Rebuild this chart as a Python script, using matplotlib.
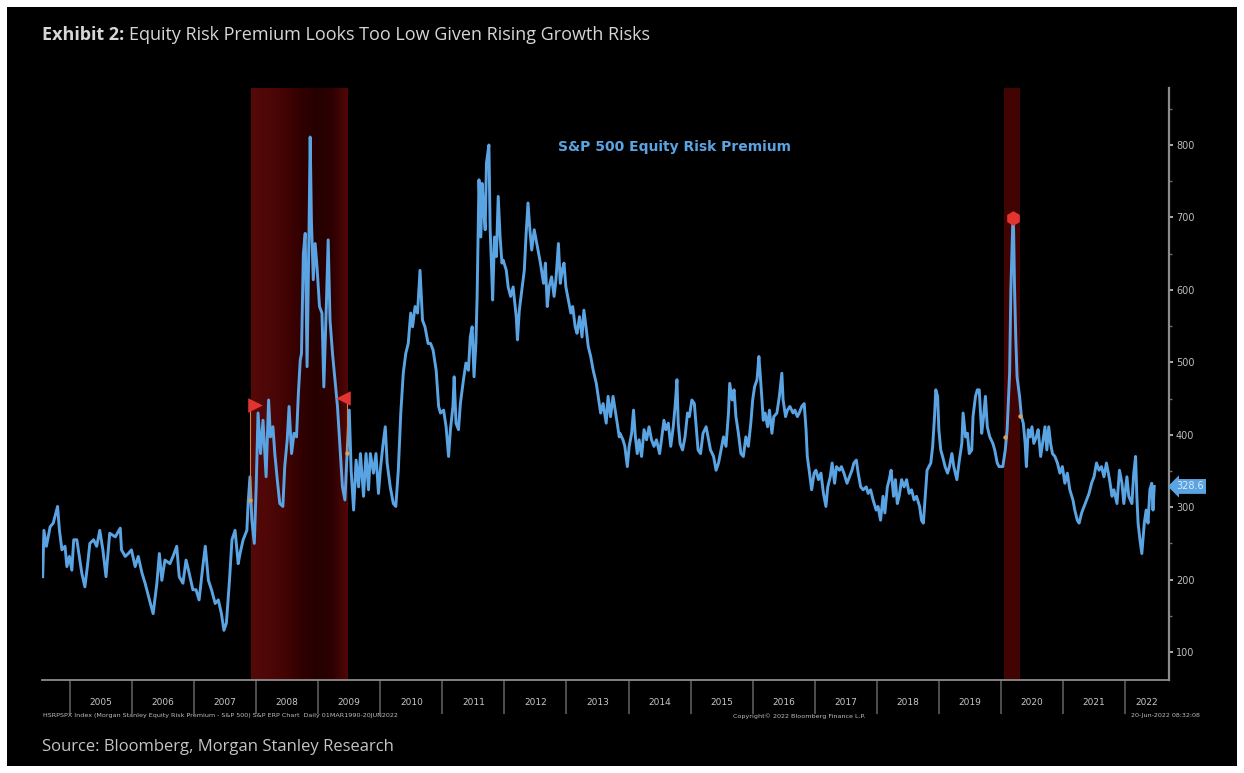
import numpy as np
import matplotlib.pyplot as plt
from matplotlib.colors import LinearSegmentedColormap
from matplotlib.patches import Rectangle

# ========= datos (año decimal / pb) =========
t_2004_07 = [2004.56, 2004.58, 2004.62, 2004.68, 2004.73, 2004.80, 2004.83, 2004.87, 2004.92, 2004.95, 2004.99,
             2005.03, 2005.06, 2005.11, 2005.15, 2005.19, 2005.24, 2005.28, 2005.32, 2005.38, 2005.43, 2005.48,
             2005.53, 2005.58, 2005.64, 2005.73, 2005.81, 2005.83, 2005.89, 2005.94, 2005.99,
             2006.05, 2006.10, 2006.16, 2006.21, 2006.28, 2006.34, 2006.40, 2006.44, 2006.48, 2006.53, 2006.61,
             2006.66, 2006.72, 2006.76, 2006.82, 2006.87, 2006.92, 2006.98,
             2007.03, 2007.08, 2007.14, 2007.18, 2007.23, 2007.28, 2007.34, 2007.39, 2007.44, 2007.48, 2007.52,
             2007.57, 2007.61, 2007.66, 2007.71]
erp_2004_07 = [204, 268, 246, 273, 278, 301, 268, 241, 246, 218, 232,
               213, 255, 255, 232, 209, 190, 218, 250, 255, 246, 268, 241, 204, 264, 259, 271, 241, 232, 236, 241,
               218, 232, 209, 195, 172, 153, 195, 236, 199, 227, 222, 232, 246, 204, 195, 227, 209, 186,
               186, 172, 218, 246, 199, 186, 167, 172, 153, 130, 140, 199, 255, 268, 222]

t_2007_10 = [2007.74, 2007.79, 2007.85, 2007.87, 2007.90, 2007.93, 2007.97,
             2008.00, 2008.03, 2008.07, 2008.11, 2008.16, 2008.20, 2008.23, 2008.27, 2008.30, 2008.34, 2008.38,
             2008.43, 2008.46, 2008.50, 2008.53, 2008.57, 2008.61, 2008.65, 2008.68, 2008.71, 2008.73, 2008.76,
             2008.79, 2008.82, 2008.85, 2008.87, 2008.89, 2008.92, 2008.95, 2008.98,
             2009.02, 2009.06, 2009.09, 2009.13, 2009.16, 2009.19, 2009.23, 2009.27, 2009.31, 2009.35, 2009.39,
             2009.43, 2009.47, 2009.50, 2009.53, 2009.57, 2009.61, 2009.65, 2009.68, 2009.73, 2009.77, 2009.81,
             2009.84, 2009.89, 2009.93, 2009.97,
             2010.00, 2010.04, 2010.08, 2010.11, 2010.16, 2010.21, 2010.25, 2010.29, 2010.33, 2010.37, 2010.41,
             2010.45, 2010.49, 2010.52, 2010.56, 2010.60, 2010.64, 2010.68, 2010.72, 2010.77]
erp_2007_10 = [236, 255, 268, 305, 342, 282, 250,
               328, 430, 374, 420, 342, 448, 397, 411, 374, 338, 305, 301, 356, 393, 439, 374, 402, 397, 457, 503,
               512, 650, 678, 494, 673, 811, 696, 614, 664, 632,
               577, 568, 466, 577, 669, 558, 512, 476, 439, 384, 328, 310, 384, 434, 351, 296, 365, 328, 374, 315,
               374, 324, 374, 347, 374, 319,
               351, 384, 411, 361, 328, 305, 301, 351, 430, 485, 512, 526, 568, 549, 577, 568, 627, 558, 549, 526]

t_2010_13 = [2010.81, 2010.85, 2010.90, 2010.94, 2010.97,
             2011.02, 2011.06, 2011.10, 2011.13, 2011.17, 2011.19, 2011.22, 2011.26, 2011.29, 2011.34, 2011.38,
             2011.42, 2011.45, 2011.48, 2011.51, 2011.54, 2011.56, 2011.59, 2011.62, 2011.64, 2011.67, 2011.69,
             2011.71, 2011.75, 2011.77, 2011.79, 2011.81, 2011.84, 2011.87, 2011.90, 2011.93, 2011.96, 2011.98,
             2012.03, 2012.06, 2012.10, 2012.14, 2012.19, 2012.21, 2012.24, 2012.28, 2012.32, 2012.35, 2012.38,
             2012.41, 2012.44, 2012.48, 2012.51, 2012.55, 2012.58, 2012.63, 2012.66, 2012.69, 2012.72, 2012.76,
             2012.80, 2012.83, 2012.87, 2012.90, 2012.93, 2012.96, 2012.99,
             2013.03, 2013.07, 2013.10, 2013.14, 2013.17, 2013.21, 2013.25, 2013.28, 2013.32, 2013.35, 2013.39,
             2013.43, 2013.48, 2013.51, 2013.55, 2013.59, 2013.64, 2013.67, 2013.71, 2013.75, 2013.81, 2013.85]
erp_2010_13 = [526, 517, 489, 439, 430,
               434, 411, 370, 407, 439, 480, 416, 407, 443, 476, 499, 489, 535, 549, 480, 526, 591, 752, 673, 747,
               706, 683, 775, 800, 683, 637, 586, 673, 646, 729, 673, 637, 641,
               627, 604, 591, 604, 563, 531, 572, 600, 627, 678, 720, 683, 655, 683, 669, 650, 637, 609, 637, 577,
               604, 618, 591, 614, 664, 609, 627, 637, 604,
               586, 568, 577, 549, 540, 563, 535, 572, 545, 522, 508, 489, 471, 453, 430, 443, 416, 453, 425, 453,
               420, 397]

t_2013_16 = [2013.86, 2013.91, 2013.94, 2013.98,
             2014.01, 2014.05, 2014.08, 2014.11, 2014.14, 2014.17, 2014.21, 2014.25, 2014.29, 2014.33, 2014.37,
             2014.41, 2014.45, 2014.50, 2014.53, 2014.57, 2014.60, 2014.64, 2014.68, 2014.72, 2014.75, 2014.78,
             2014.80, 2014.83, 2014.87, 2014.91, 2014.95, 2014.98,
             2015.02, 2015.06, 2015.09, 2015.12, 2015.16, 2015.20, 2015.25, 2015.29, 2015.32, 2015.37, 2015.41,
             2015.45, 2015.49, 2015.53, 2015.57, 2015.61, 2015.63, 2015.67, 2015.70, 2015.73, 2015.77, 2015.81,
             2015.85, 2015.89, 2015.93, 2015.97,
             2016.00, 2016.03, 2016.07, 2016.10, 2016.12, 2016.15, 2016.17, 2016.20, 2016.24, 2016.27, 2016.31,
             2016.34, 2016.39, 2016.43, 2016.47, 2016.49, 2016.53, 2016.56, 2016.60, 2016.65, 2016.68, 2016.72,
             2016.75]
erp_2013_16 = [402, 393, 384, 356,
               384, 402, 434, 397, 374, 393, 370, 407, 393, 411, 393, 384, 393, 374, 393, 420, 407, 416, 384, 411,
               439, 476, 416, 388, 379, 397, 430, 425,
               448, 443, 411, 379, 374, 402, 411, 393, 379, 370, 351, 361, 379, 397, 384, 430, 471, 448, 462, 425,
               402, 374, 370, 397, 384, 416,
               448, 466, 476, 508, 485, 448, 420, 430, 411, 434, 402, 425, 430, 453, 485, 448, 425, 434, 439, 430,
               434, 425, 430]

t_2016_19 = [2016.79, 2016.83, 2016.86, 2016.88, 2016.91, 2016.95, 2016.99,
             2017.02, 2017.06, 2017.10, 2017.14, 2017.18, 2017.21, 2017.25, 2017.28, 2017.32, 2017.35, 2017.40,
             2017.43, 2017.47, 2017.52, 2017.56, 2017.60, 2017.63, 2017.67, 2017.70, 2017.74, 2017.78, 2017.83,
             2017.86, 2017.90, 2017.94, 2017.99,
             2018.02, 2018.06, 2018.10, 2018.13, 2018.17, 2018.20, 2018.23, 2018.27, 2018.30, 2018.33, 2018.36,
             2018.40, 2018.44, 2018.48, 2018.52, 2018.56, 2018.60, 2018.64, 2018.69, 2018.72, 2018.75, 2018.78,
             2018.81, 2018.84, 2018.87, 2018.90, 2018.93, 2018.95, 2018.98,
             2019.00, 2019.03, 2019.06, 2019.10, 2019.14, 2019.17, 2019.21, 2019.24, 2019.29, 2019.33, 2019.37,
             2019.39, 2019.43, 2019.46, 2019.49, 2019.53, 2019.55, 2019.59, 2019.62, 2019.65, 2019.69, 2019.72,
             2019.75, 2019.78, 2019.82, 2019.87, 2019.90, 2019.94, 2019.97]
erp_2016_19 = [439, 443, 407, 370, 351, 324, 347,
               351, 338, 347, 319, 301, 328, 342, 361, 333, 356, 351, 356, 347, 333, 342, 351, 361, 365, 347, 328,
               324, 328, 319, 324, 310, 296,
               301, 282, 315, 292, 328, 338, 351, 315, 338, 305, 315, 338, 328, 338, 319, 324, 310, 315, 301, 282,
               278, 315, 351, 356, 361, 384, 425, 462, 453,
               407, 379, 370, 356, 347, 356, 374, 356, 338, 365, 388, 430, 397, 402, 374, 379, 425, 453, 462, 462,
               402, 425, 453, 411, 397, 388, 379, 361, 356]

t_2020_22 = [2020.03, 2020.07, 2020.10, 2020.14, 2020.16, 2020.19, 2020.20, 2020.22, 2020.24, 2020.26, 2020.30,
             2020.33, 2020.36, 2020.39, 2020.41, 2020.44, 2020.47, 2020.50, 2020.53, 2020.57, 2020.60, 2020.64,
             2020.67, 2020.71, 2020.74, 2020.77, 2020.80, 2020.83, 2020.87, 2020.91, 2020.95, 2020.99,
             2021.03, 2021.07, 2021.11, 2021.16, 2021.19, 2021.23, 2021.26, 2021.30, 2021.34, 2021.38, 2021.42,
             2021.46, 2021.50, 2021.54, 2021.58, 2021.62, 2021.66, 2021.70, 2021.75, 2021.79, 2021.82, 2021.87,
             2021.91, 2021.95, 2021.98,
             2022.03, 2022.06, 2022.11, 2022.14, 2022.17, 2022.19, 2022.21, 2022.24, 2022.27, 2022.31, 2022.34,
             2022.37, 2022.40, 2022.43, 2022.45, 2022.47]
erp_2020_22 = [356, 379, 407, 485, 600, 692, 703, 600, 531, 480, 453, 425, 416, 388, 356, 407, 397, 411, 388, 397,
               407, 370, 388, 411, 379, 411, 388, 374, 370, 361, 347, 356,
               333, 347, 324, 310, 296, 282, 278, 292, 301, 310, 319, 333, 342, 361, 351, 356, 342, 361, 338, 315,
               324, 305, 351, 333, 305,
               342, 315, 305, 347, 370, 315, 278, 255, 236, 278, 296, 278, 324, 333, 296, 328.6]

# recesiones (sombreado rojo)
recession_start = [2007.92, 2020.05]
recession_end = [2009.48, 2020.31]

# marcas de eventos Bloomberg
event_years = [2007.98, 2009.40, 2020.20]
event_levels = [441, 451, 699]
event_markers = [">", "<", "h"]
event_dot_years = [2007.90, 2009.47, 2020.07, 2020.30]
event_dot_levels = [310, 375, 397, 426]

year_labels = list(range(2005, 2023))
y_ticks = [100, 200, 300, 400, 500, 600, 700, 800]
y_minor = [150, 250, 350, 450, 550, 650, 750, 850]

t = np.concatenate([t_2004_07, t_2007_10, t_2010_13, t_2013_16, t_2016_19, t_2020_22])
erp = np.concatenate([erp_2004_07, erp_2007_10, erp_2010_13, erp_2013_16, erp_2016_19, erp_2020_22])

# ========= estilo =========
W, H = 1244, 773
LINE = "#5ba4e3"
AXIS = "#8c8c8c"
TXT = "#d6d6d6"
XMIN, XMAX = 2004.549, 2022.708
YMIN, YMAX = 61.4, 878.7

fig = plt.figure(figsize=(W / 100, H / 100), dpi=100)
fig.patch.set_facecolor("white")
fig.add_artist(Rectangle((7 / W, 7 / H), 1 - 14 / W, 1 - 14 / H, transform=fig.transFigure,
                         facecolor="black", edgecolor="none", zorder=0))

ax = fig.add_axes([42 / W, 1 - 680 / H, (1169 - 42) / W, (680 - 88) / H])
ax.set_facecolor("black")

# recesión 2008: degradado rojo
band_cmap = LinearSegmentedColormap.from_list(
    "band", ["#560909", "#4f0707", "#450404", "#330101", "#260000", "#2c0000", "#520707"])
ax.imshow(np.linspace(0, 1, 256).reshape(1, -1), extent=[recession_start[0], recession_end[0], YMIN, YMAX],
          aspect="auto", cmap=band_cmap, zorder=1, interpolation="bilinear")
ax.axvspan(recession_start[1], recession_end[1], color="#420303", zorder=1, lw=0)

ax.plot(t, erp, color=LINE, lw=2.1, zorder=3, solid_joinstyle="round")

# eventos
ax.vlines(event_dot_years[:2], event_dot_levels[:2], event_levels[:2], color="#c9884a", lw=0.8, zorder=4)
ax.scatter(event_dot_years, event_dot_levels, s=10, color="#d9a05a", zorder=5, lw=0)
for x, y, m in zip(event_years, event_levels, event_markers):
    ax.scatter([x], [y], marker=m, s=110, color="#e2352f", zorder=6, lw=0)

ax.set_xlim(XMIN, XMAX)
ax.set_ylim(YMIN, YMAX)

# ejes
for s in ["left", "top"]:
    ax.spines[s].set_visible(False)
ax.spines["bottom"].set_color(AXIS)
ax.spines["bottom"].set_linewidth(1.3)
ax.spines["right"].set_color(AXIS)
ax.spines["right"].set_linewidth(1.6)

ax.yaxis.tick_right()
ax.set_yticks(y_ticks)
ax.set_yticks(y_minor, minor=True)
ax.tick_params(axis="y", which="major", colors="#bdbdbd", labelsize=7, length=3, width=1.3, pad=2)
ax.tick_params(axis="y", which="minor", color="#6a6a6a", length=2, width=1)

ax.set_xticks(year_labels)
ax.set_xticklabels([])
ax.set_xticks([min(y + 0.5, (y + XMAX) / 2) for y in year_labels], minor=True)
ax.set_xticklabels([str(y) for y in year_labels], minor=True)
ax.tick_params(axis="x", which="major", length=24.5, color="#5c5c5c", width=1.2)
ax.tick_params(axis="x", which="minor", length=0, pad=13, labelsize=6.5, labelcolor="#c8c8c8")

ax.text(0.561, 0.900, "S&P 500 Equity Risk Premium", transform=ax.transAxes, color=LINE,
        fontweight="bold", fontsize=10, ha="center", va="center")

ax.annotate(f"{erp[-1]:.1f}", xy=(1.0, erp[-1]), xycoords=("axes fraction", "data"),
            xytext=(5, 0), textcoords="offset points", ha="left", va="center", fontsize=7,
            color="#dbeaf8", bbox=dict(boxstyle="larrow,pad=0.25", fc=LINE, ec="none"), annotation_clip=False)

# textos
fig.text(43 / W, 1 - 716 / H, "HSRPSPX Index (Morgan Stanley Equity Risk Premium - S&P 500) S&P ERP Chart  "
         "Daily 01MAR1990-20JUN2022", fontsize=4.6, color="#bdbdbd", va="center")
fig.text(733 / W, 1 - 716 / H, "Copyright\u00a9 2022 Bloomberg Finance L.P.", fontsize=4.6, color="#bdbdbd",
         va="center")
fig.text(1131 / W, 1 - 716 / H, "20-Jun-2022 08:32:08", fontsize=4.6, color="#bdbdbd", va="center")

t1 = fig.text(42 / W, 1 - 35 / H, "Exhibit 2:", fontsize=13, fontweight="bold", color=TXT,
              family="Open Sans", va="center")
fig.canvas.draw()
bb = t1.get_window_extent()
fig.text((bb.x1 + 5) / W, 1 - 35 / H, "Equity Risk Premium Looks Too Low Given Rising Growth Risks",
         fontsize=13, color=TXT, family="Open Sans", va="center")

fig.text(42 / W, 1 - 747 / H, "Source: Bloomberg, Morgan Stanley Research", fontsize=12, color="#c4c4c4",
         family="Open Sans", va="center")

fig.savefig("out.png", dpi=100, facecolor=fig.get_facecolor())
